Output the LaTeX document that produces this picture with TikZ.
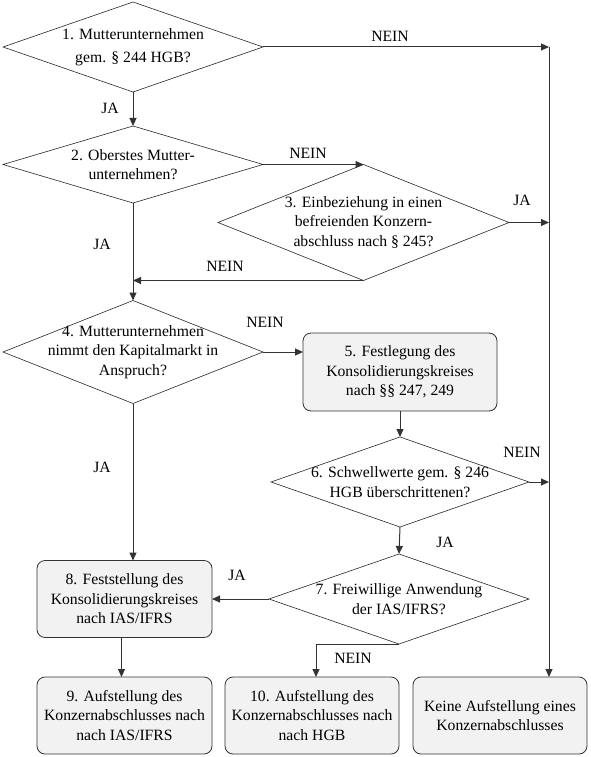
\documentclass[tikz,border=0pt]{standalone}
\usepackage{fontspec}
\setmainfont{Liberation Serif}
\usetikzlibrary{shapes.geometric,arrows.meta}

\newcommand\chartfont{\fontsize{15.7}{19.5}\selectfont}

\tikzset{
  frage/.style n args={3}{diamond, draw=black!85, line width=0.6pt, minimum width=#1,
    minimum height=#2, aspect=#3, inner sep=-12pt, outer sep=0pt, align=center,
    font=\chartfont},
  kasten/.style 2 args={rectangle, draw=black!80, line width=0.8pt, rounded corners=8pt,
    fill=black!5, minimum width=#1, minimum height=#2, inner sep=0pt, outer sep=0pt,
    align=center, font=\chartfont},
  pfeil/.style={draw=black!80, line width=1pt, -{Triangle[length=8pt,width=7pt]}},
  marke/.style={font=\chartfont, inner sep=0pt}
}

\begin{document}
\begin{tikzpicture}[x=1pt, y=-1pt]
  \useasboundingbox (0,0) rectangle (590,757);
  % --- Fragen 1-4 (linke Spalte) ---
  \node[frage={260pt}{90pt}{2.889}] (f1) at (133,47) {1. Mutterunternehmen\\[3pt]gem. § 244 HGB?};
  \node[frage={260pt}{77pt}{3.377}] (f2) at (133,164.5) {2. Oberstes Mutter-\\unternehmen?};
  \node[frage={291pt}{116pt}{2.509}] (f3) at (363.5,222.5) {3. Einbeziehung in einen\\befreienden Konzern-\\abschluss nach § 245?};
  \node[frage={260pt}{103pt}{2.524}] (f4) at (133,352) {4. Mutterunternehmen\\nimmt den Kapitalmarkt in\\Anspruch?};
  % --- HGB-Zweig ---
  \node[kasten={194pt}{78pt}] (k5) at (400,372) {5. Festlegung des\\Konsolidierungskreises\\nach §§ 247, 249};
  \node[frage={258pt}{90pt}{2.867}] (f6) at (400,482) {6. Schwellwerte gem. § 246\\HGB überschrittenen?};
  \node[frage={260pt}{90pt}{2.889}] (f7) at (399,599) {7. Freiwillige Anwendung\\der IAS/IFRS?};
  % --- Ergebnisse ---
  \node[kasten={175pt}{77pt}] (k8) at (124.5,599) {8. Feststellung des\\Konsolidierungskreises\\nach IAS/IFRS};
  \node[kasten={175pt}{77pt}] (k9) at (124.5,715.5) {9. Aufstellung des\\Konzernabschlusses nach\\nach IAS/IFRS};
  \node[kasten={174pt}{77pt}] (k10) at (312,715.5) {10. Aufstellung des\\Konzernabschlusses nach\\nach HGB};
  \node[kasten={174pt}{77pt}] (k11) at (500,715.5) {Keine Aufstellung eines\\Konzernabschlusses};
  % rechte Sammelleitung
  \coordinate (oben) at (549,47);

  % --- Verbindungen ---
  \draw[pfeil] (f1.east) -- (oben);
  \draw[pfeil] (oben) -- (oben |- k11.north);
  \draw[pfeil] (f1.south) -- (f2.north);
  \draw[pfeil] (f2.east) -- (f3.north);
  \draw[pfeil] (f3.east) -- (f3.east -| oben);
  \draw[pfeil] (f3.south) -- (f3.south -| f2.south);
  \draw[pfeil] (f2.south) -- (f4.north);
  \draw[pfeil] (f4.east) -- (f4.east -| k5.west);
  \draw[pfeil] (f4.south) -- (f4.south |- k8.north);
  \draw[pfeil] (k5.south) -- (f6.north);
  \draw[pfeil] (f6.east) -- (f6.east -| oben);
  \draw[pfeil] (f6.south) -- (f7.north);
  \draw[pfeil] (f7.west) -- (k8.east);
  \draw[pfeil] (f7.south) -| ([xshift=4pt]k10.north);
  \draw[pfeil] ([xshift=-3pt]k8.south) -- ([xshift=-3pt]k9.north);

  % --- Beschriftungen ---
  \node[marke] (n1) at (390,36) {NEIN};
  \node[marke] (j1) at (110,108) {JA};
  \node[marke] (n2) at (308,153) {NEIN};
  \node[marke] (j3) at (522,200) {JA};
  \node[marke] (j2) at (102,244) {JA};
  \node[marke] (n3) at (225,266) {NEIN};
  \node[marke] (n4) at (265,322) {NEIN};
  \node[marke] (j4) at (102,467) {JA};
  \node[marke] (n6) at (522,452) {NEIN};
  \node[marke] (j6) at (445,542) {JA};
  \node[marke] (j7) at (237,575) {JA};
  \node[marke] (n7) at (353,658) {NEIN};
\end{tikzpicture}
\end{document}
